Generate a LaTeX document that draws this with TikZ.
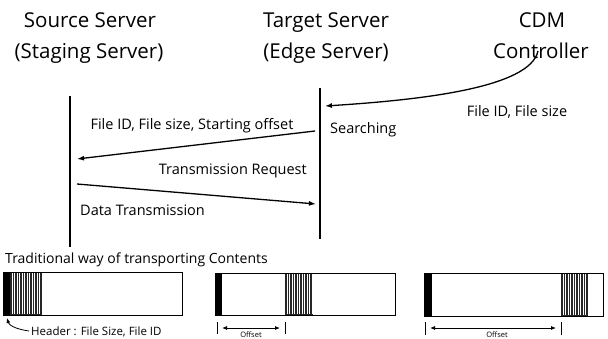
\documentclass[tikz,border=0pt]{standalone}
\usepackage{fontspec}
\setmainfont{Open Sans}
\usetikzlibrary{arrows.meta}
\begin{document}
\begin{tikzpicture}[x=1pt,y=-1pt,
  title/.style={font=\fontsize{20.5}{24}\selectfont, inner sep=0pt, anchor=base},
  lbl/.style={font=\fontsize{14.5}{16}\selectfont, inner sep=0pt, anchor=base},
  capt/.style={font=\fontsize{14}{16}\selectfont, inner sep=0pt, anchor=base west},
  small/.style={font=\fontsize{11.5}{13}\selectfont, inner sep=0pt, anchor=base},
  tiny/.style={font=\fontsize{7.5}{9}\selectfont, inner sep=0pt, anchor=base},
  life/.style={line width=1.2pt},
  msg/.style={line width=1.3pt, -{Latex[length=7pt,width=5pt]}},
  box/.style={draw, line width=0.9pt},
  solidhead/.style={fill=black},
  hatchbg/.style={fill=black!85},
  stripe/.style={white, line width=0.45pt},
  tick/.style={line width=0.8pt},
  dbl/.style={line width=0.8pt, {Latex[length=5pt,width=4pt]}-{Latex[length=5pt,width=4pt]}},
]
\useasboundingbox (0,0) rectangle (608,338);

% titles
\node[title] (src1) at (90,27) {Source Server};
\node[title] (src2) at (89,58) {(Staging Server)};
\node[title] (tgt1) at (326,27) {Target Server};
\node[title] (tgt2) at (326,58) {(Edge Server)};
\node[title] (cdm1) at (542,27) {CDM};
\node[title] (cdm2) at (541,58) {Controller};

% lifelines
\coordinate (sTop) at (70,96);
\coordinate (sBot) at (70,247);
\coordinate (tTop) at (320,88);
\coordinate (tBot) at (320,239);
\draw[life] (sTop) -- (sBot);
\draw[life] (tTop) -- (tBot);

% CDM request
\coordinate (cStart) at (538,51);
\coordinate (cEnd) at (325,106);
\draw[msg] (cStart) .. controls (530,88) and (420,100) .. (cEnd);
\node[lbl] (fidfs) at (517,116) {File ID, File size};
\node[lbl, anchor=base west] (search) at (330,133) {Searching};

% transmission request
\coordinate (trStart) at (315,131);
\coordinate (trEnd) at (77,159);
\draw[msg] (trStart) -- (trEnd);
\node[lbl] (fidoff) at (192,129) {File ID, File size, Starting offset};
\node[lbl, anchor=base east] (treq) at (307,174) {Transmission Request};

% data transmission
\coordinate (dtStart) at (77,184);
\coordinate (dtEnd) at (316,204);
\draw[msg] (dtStart) -- (dtEnd);
\node[lbl, anchor=base west] (dtx) at (80,215) {Data Transmission};

% caption
\node[capt] (cap) at (5,263) {Traditional way of transporting Contents};

% box 1
\fill[solidhead] (3,272) rectangle (10,315);
\fill[hatchbg] (10,272) rectangle (42,315);
\foreach \x in {12,14.5,...,41} \draw[stripe] (\x,273) -- (\x,314);
\draw[box] (3,272) rectangle (182,315);
\node[small, anchor=base west] (hdr) at (31,335) {Header : File Size, File ID};
\coordinate (hdrA) at (29,331);
\coordinate (hdrB) at (7,318);
\draw[line width=0.8pt, -{Latex[length=5pt,width=4pt]}] (hdrA) .. controls (15,329) and (9,325) .. (hdrB);

% box 2
\fill[solidhead] (215,273) rectangle (222,315);
\fill[hatchbg] (285,273) rectangle (313,315);
\foreach \x in {287,289.5,...,312} \draw[stripe] (\x,274) -- (\x,314);
\draw[box] (215,273) rectangle (395,315);
\coordinate (o2a) at (217,328);
\coordinate (o2b) at (285,328);
\draw[tick] (217,322) -- (217,334);
\draw[tick] (285,322) -- (285,334);
\draw[dbl] ([xshift=5pt]o2a) -- ([xshift=-5pt]o2b);
\node[tiny] (off2) at (251,337) {Offset};

% box 3
\fill[solidhead] (424,273) rectangle (432,316);
\fill[hatchbg] (561,273) rectangle (588,316);
\foreach \x in {563,565.5,...,587} \draw[stripe] (\x,274) -- (\x,315);
\draw[box] (424,273) rectangle (603,316);
\coordinate (o3a) at (425,328);
\coordinate (o3b) at (561,328);
\draw[tick] (425,322) -- (425,335);
\draw[tick] (561,322) -- (561,335);
\draw[dbl] ([xshift=5pt]o3a) -- ([xshift=-5pt]o3b);
\node[tiny] (off3) at (497,337) {Offset};
\end{tikzpicture}
\end{document}
